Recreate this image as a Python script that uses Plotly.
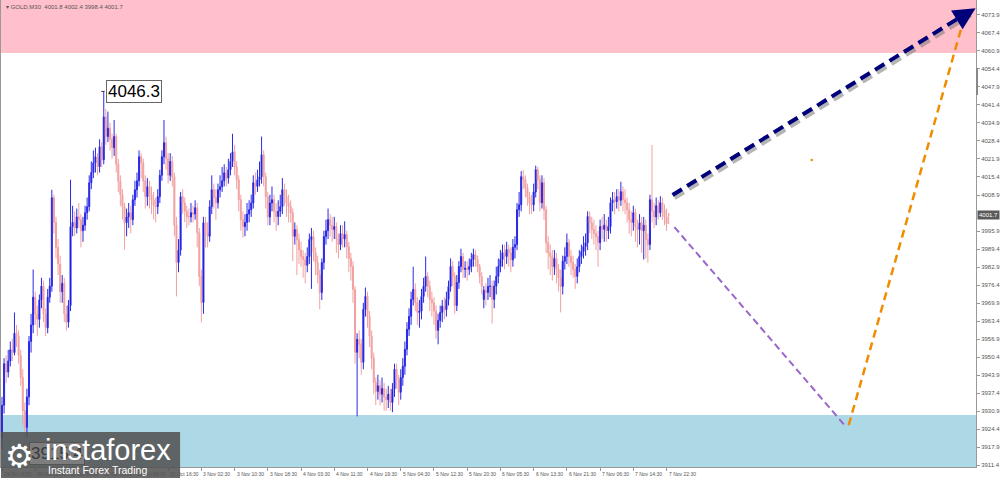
import plotly.graph_objects as go

# ---------------- data (GOLD, M30) ----------------
opens = [
    3921, 3933, 3948, 3945, 3949, 3953, 3952, 3959, 3958, 3951,
    3943, 3931, 3925, 3936, 3956, 3962, 3972, 3966, 3964, 3971,
    3976, 3966, 3961, 3972, 3976, 4007.9, 3999, 3990, 3984, 3974,
    3977, 3966, 3963, 3969, 3997.5, 3999, 3997, 4001, 4000, 3996,
    3998, 4002.5, 4004.7, 4013.3, 4017, 4020.5, 4022.7, 4019.1, 4026.3, 4021.6,
    4037.1, 4030, 4033, 4029, 4026, 4030, 4020, 4014, 4009, 4004.7,
    3998.9, 4001, 4002.5, 4000, 4007.2, 4010.8, 4014, 4022.7, 4020.5, 4014,
    4008.3, 4011.9, 4009, 4007.2, 4005, 4004.7, 4008.3, 4016, 4022.7, 4027.8,
    4022, 4016, 4021, 4015.5, 3998, 3984.5, 3989, 4008.3, 4006, 4003,
    4001.1, 4001, 4002.5, 4002, 4004.3, 3995.3, 3979.5, 3970.1, 3998.9, 3995.3,
    3994, 4004.7, 4010.8, 4008, 4006.1, 4010.8, 4011.9, 4014, 4016.9, 4015,
    4018, 4021, 4024.5, 4019, 4014.4, 4007.2, 4000, 3997.5, 3999, 4002,
    4003.6, 4006, 4013.3, 4012, 4014.4, 4015.5, 4023.4, 4015.5, 4008.3, 4001,
    4006, 4007.2, 4003, 4001.1, 4003, 4004.7, 4010.8, 4008.3, 4006, 4004.7,
    4002.5, 3994, 3996.4, 3992.8, 3989, 3986.7, 3985.6, 3983.5, 3986.7, 3992.8,
    3993.9, 3988.1, 3984.5, 3980, 3973.7, 3984.5, 3993.9, 3996, 4000, 3998,
    3996.4, 3997.5, 3993, 3991, 3995, 3993, 3994.6, 3990.3, 3986, 3983.1,
    3974.8, 3952.1, 3956.8, 3955, 3948.5, 3967.6, 3972.3, 3965, 3958, 3950,
    3941.3, 3938, 3940, 3937, 3939, 3936, 3935, 3937, 3934, 3938.8,
    3946, 3942.4, 3937.7, 3943, 3947.1, 3953.2, 3960.4, 3965.1, 3971.2, 3974.8,
    3970.1, 3966.5, 3967, 3972.3, 3976, 3979.5, 3975.9, 3971.2, 3970, 3967,
    3960, 3963.6, 3966.5, 3968.7, 3967.5, 3971.2, 3975.9, 3983.1, 3979.5, 3969,
    3977.3, 3983.1, 3986.7, 3982, 3982.5, 3982, 3983.1, 3985.6, 3987.4, 3985.6,
    3983.1, 3979.5, 3971.2, 3974.5, 3973.7, 3975.9, 3976, 3971.2, 3976, 3979.5,
    3983.1, 3985.6, 3988.1, 3986.7, 3989.2, 3988, 3985.5, 3990, 3991, 4003.6,
    4005.4, 4015.5, 4014.4, 4011.5, 4008.3, 4006, 4005.4, 4010, 4018, 4014.4,
    4006.1, 4013.3, 4003.6, 3991.7, 3988, 3986.7, 3983, 3986, 3982, 3979,
    3975.9, 3985, 3986.7, 3991.7, 3986.7, 3984.5, 3982, 3979.5, 3983, 3986.7,
    3988.5, 3990.3, 3991.7, 4001.1, 3998.9, 3996.4, 3995, 3993.9, 3991.7, 3997.5,
    3996.5, 3998, 3996, 3997.5, 4006.1, 4007.2, 4006.5, 4008.3, 4007, 4010.1,
    4007.2, 4006.1, 4003.6, 4000, 3999, 4002.5, 3997.5, 3996.4, 3998.9, 3996,
    3998, 3992.8, 3991, 4007.2, 4003, 4001, 4005, 4002.5, 4006.1, 4003.6,
    4001, 4001.8,
]
highs = [
    3936, 3950, 3951, 3953, 3956, 3957, 3966.5, 3962, 3960, 3953,
    3946, 3934, 3939, 3958, 3966, 3982, 3974, 3969, 3973, 3979,
    3978, 3968, 3975, 3979, 4010.8, 4009, 4001, 3993, 3987, 3980,
    3979, 3969, 3971, 4014.4, 4005, 4003, 4004, 4006, 4002, 4001,
    4005, 4008, 4016, 4021, 4025, 4026, 4024, 4029, 4028, 4046.3,
    4040, 4039, 4035, 4031, 4036, 4031, 4022, 4016, 4011, 4006,
    4004, 4006, 4005, 4009, 4014, 4017, 4025, 4024, 4022, 4016,
    4015, 4014, 4012, 4010, 4008, 4011, 4018, 4025, 4036, 4030,
    4024, 4024, 4023, 4017, 4001, 3993, 4010, 4011, 4008, 4005,
    4004, 4006, 4005, 4007, 4006, 3997, 3982, 4001, 4001, 3999,
    4007, 4016, 4013, 4011, 4013, 4016, 4019, 4020, 4019, 4022,
    4024, 4031, 4027, 4021, 4016, 4009, 4003, 4002, 4006, 4007,
    4009, 4016, 4017, 4018, 4021, 4030, 4025, 4017, 4010, 4009,
    4012, 4009, 4006, 4007, 4009, 4015, 4013, 4011, 4009, 4007,
    4004, 3999, 3998, 3995, 3992, 3989, 3988, 3990, 3995, 3997,
    3996, 3990, 3987, 3982, 3986, 3996, 4000, 4004, 4002, 4001,
    4001, 3999, 3995, 3998, 3998, 3999.4, 3996, 3992, 3988, 3985,
    3976, 3959, 3960, 3957, 3970, 3975.5, 3974, 3967, 3960, 3952,
    3943, 3944, 3942, 3943, 3941, 3939, 3940, 3939, 3941, 3948,
    3948, 3944, 3946, 3950, 3956, 3963, 3968, 3974, 3983, 3977,
    3972, 3971, 3975, 3979, 3986.7, 3981, 3978, 3974, 3972, 3969,
    3966, 3969, 3971, 3972, 3974, 3978, 3986, 3985, 3981, 3980,
    3985, 3989.5, 3988, 3985, 3985, 3986, 3988, 3989.5, 3989, 3987,
    3984, 3981, 3976, 3977, 3979, 3980, 3978, 3978, 3983, 3986,
    3989, 3991, 3991, 3992, 3991, 3990, 3993, 3994, 4006, 4010,
    4017.5, 4018, 4016, 4013, 4010, 4009, 4013, 4019.5, 4019, 4016,
    4016, 4015, 4005, 3994, 3991, 3989, 3989, 3988, 3984, 3982,
    3987, 3990, 3995, 3993, 3989, 3987, 3984, 3986, 3989, 3991,
    3994, 3995, 4003, 4003, 4001, 4000, 3998, 3996, 4000, 4001,
    4002, 4000, 4001, 4008, 4010, 4010, 4011, 4011, 4013.7, 4012,
    4011, 4008, 4006, 4003, 4005, 4004, 4000, 4002, 4001, 4001,
    4000, 3995, 4009, 4027, 4006, 4008, 4007, 4008.5, 4008, 4005.5,
    4004, 4002.4,
]
lows = [
    3917, 3930, 3941, 3943, 3947, 3949, 3951, 3954, 3948, 3940,
    3926, 3915.4, 3921, 3933, 3952, 3959, 3962, 3958, 3961, 3968,
    3963, 3958, 3959, 3970, 3974, 3995, 3986, 3980, 3970, 3970,
    3963, 3960, 3961, 3967, 3994, 3994, 3995, 3997, 3990, 3992,
    3996, 4000, 4003, 4011, 4015, 4017, 4016, 4017, 4019, 4020,
    4027, 4028, 4025, 4022, 4023, 4017, 4010, 4005, 4000, 3989.2,
    3994, 3997, 3995, 3998, 4005, 4008, 4012, 4015, 4010, 4004,
    4005, 4004, 4002, 4000, 3999, 4002, 4006, 4014, 4020, 4018,
    4013, 4014, 4012, 3994, 3972.3, 3981, 3987, 4002, 3999, 3997,
    3998, 3999, 3999, 4000, 3990, 3976, 3962.9, 3966, 3990, 3990,
    3992, 4002, 4004, 4000, 4004, 4008, 4010, 4012, 4012, 4013,
    4016, 4019, 4016, 4011, 4003, 3996, 3993.5, 3994, 3996, 3999,
    4001, 4004, 4009, 4010, 4012, 4013, 4012, 4004, 3998, 3998,
    4003, 3999, 3996, 3998, 4001, 4002, 4005, 4001, 3999, 3999,
    3985, 3991, 3980, 3984, 3983, 3979, 3977, 3981, 3984, 3975,
    3985, 3980, 3977, 3967.6, 3971, 3982, 3991, 3993, 3994, 3992,
    3993, 3988, 3986, 3989, 3990, 3990, 3986, 3981, 3978, 3970,
    3948, 3929, 3950, 3944, 3946, 3965, 3961, 3954, 3946, 3937,
    3933, 3935, 3933, 3934, 3931, 3931, 3932, 3931, 3930.5, 3936,
    3939, 3933, 3935, 3940, 3944, 3951, 3958, 3962, 3969, 3967,
    3962, 3961, 3964, 3970, 3974, 3972, 3967, 3965, 3962, 3957,
    3955, 3961, 3963, 3964, 3965, 3969, 3974, 3976, 3966, 3967,
    3975, 3981, 3979, 3979, 3978, 3980, 3981, 3983, 3983, 3981,
    3977, 3973, 3968, 3969, 3971, 3972, 3962.5, 3968, 3973, 3977,
    3981, 3983, 3982, 3984, 3983, 3981, 3983, 3986, 3989, 4001,
    4003, 4011, 4008, 4005, 4002, 4002, 4003, 4008, 4011, 4003,
    4004, 4000, 3988, 3982, 3980, 3978, 3980, 3977, 3974, 3966.5,
    3973, 3982, 3984, 3983, 3980, 3979, 3975, 3977, 3981, 3984,
    3986, 3987, 3989, 3995, 3993, 3991, 3989, 3983, 3989, 3993,
    3992, 3992, 3993, 3995, 4003, 4002, 4004, 4003, 4005, 4003,
    4002, 3999, 3995, 3994, 3996, 3992, 3990, 3991, 3988, 3985.6,
    3986, 3984.5, 3989, 3999, 3997, 3998, 4000, 4001, 4000, 3998,
    3996, 3998.4,
]
closes = [
    3933, 3948, 3945, 3949, 3953, 3952, 3959, 3958, 3951, 3943,
    3931, 3925, 3936, 3956, 3962, 3972, 3966, 3964, 3971, 3976,
    3966, 3961, 3972, 3976, 4007.9, 3999, 3990, 3984, 3974, 3977,
    3966, 3963, 3969, 3997.5, 3999, 3997, 4001, 4000, 3996, 3998,
    4002.5, 4004.7, 4013.3, 4017, 4020.5, 4022.7, 4019.1, 4026.3, 4021.6, 4037.1,
    4030, 4033, 4029, 4026, 4030, 4020, 4014, 4009, 4004.7, 3998.9,
    4001, 4002.5, 4000, 4007.2, 4010.8, 4014, 4022.7, 4020.5, 4014, 4008.3,
    4011.9, 4009, 4007.2, 4005, 4004.7, 4008.3, 4016, 4022.7, 4027.8, 4022,
    4016, 4021, 4015.5, 3998, 3984.5, 3989, 4008.3, 4006, 4003, 4001.1,
    4001, 4002.5, 4002, 4004.3, 3995.3, 3979.5, 3970.1, 3998.9, 3995.3, 3994,
    4004.7, 4010.8, 4008, 4006.1, 4010.8, 4011.9, 4014, 4016.9, 4015, 4018,
    4021, 4024.5, 4019, 4014.4, 4007.2, 4000, 3997.5, 3999, 4002, 4003.6,
    4006, 4013.3, 4012, 4014.4, 4015.5, 4023.4, 4015.5, 4008.3, 4001, 4006,
    4007.2, 4003, 4001.1, 4003, 4004.7, 4010.8, 4008.3, 4006, 4004.7, 4002.5,
    3994, 3996.4, 3992.8, 3989, 3986.7, 3985.6, 3983.5, 3986.7, 3992.8, 3993.9,
    3988.1, 3984.5, 3980, 3973.7, 3984.5, 3993.9, 3996, 4000, 3998, 3996.4,
    3997.5, 3993, 3991, 3995, 3993, 3994.6, 3990.3, 3986, 3983.1, 3974.8,
    3952.1, 3956.8, 3955, 3948.5, 3967.6, 3972.3, 3965, 3958, 3950, 3941.3,
    3938, 3940, 3937, 3939, 3936, 3935, 3937, 3934, 3938.8, 3946,
    3942.4, 3937.7, 3943, 3947.1, 3953.2, 3960.4, 3965.1, 3971.2, 3974.8, 3970.1,
    3966.5, 3967, 3972.3, 3976, 3979.5, 3975.9, 3971.2, 3970, 3967, 3960,
    3963.6, 3966.5, 3968.7, 3967.5, 3971.2, 3975.9, 3983.1, 3979.5, 3969, 3977.3,
    3983.1, 3986.7, 3982, 3982.5, 3982, 3983.1, 3985.6, 3987.4, 3985.6, 3983.1,
    3979.5, 3976, 3974.5, 3973.7, 3975.9, 3976, 3971.2, 3976, 3979.5, 3983.1,
    3985.6, 3988.1, 3986.7, 3989.2, 3988, 3985.5, 3990, 3991, 4003.6, 4005.4,
    4015.5, 4014.4, 4011.5, 4008.3, 4006, 4005.4, 4010, 4018, 4014.4, 4006.1,
    4013.3, 4003.6, 3991.7, 3988, 3986.7, 3983, 3986, 3982, 3979, 3975.9,
    3985, 3986.7, 3991.7, 3986.7, 3984.5, 3982, 3979.5, 3983, 3986.7, 3988.5,
    3990.3, 3991.7, 4001.1, 3998.9, 3996.4, 3995, 3993.9, 3991.7, 3997.5, 3996.5,
    3998, 3996, 3997.5, 4006.1, 4007.2, 4006.5, 4008.3, 4007, 4010.1, 4007.2,
    4006.1, 4003.6, 4000, 3999, 4002.5, 3997.5, 3996.4, 3998.9, 3996, 3998,
    3992.8, 3991, 4007.2, 4003, 4001, 4005, 4002.5, 4006.1, 4003.6, 4001,
    3998.5, 4001.7,
]

# time-axis labels (every 16 bars)
tick_bars = [0, 16, 32, 48, 64, 80, 96, 112, 128, 144, 160, 176, 192, 208, 224,
             240, 256, 272, 288, 304, 320]
tick_texts = ["29 Oct 2025", "30 Oct 08:30", "30 Oct 16:30", "31 Oct 00:30",
              "31 Oct 08:30", "31 Oct 16:30", "3 Nov 02:30", "3 Nov 10:30",
              "3 Nov 18:30", "4 Nov 03:30", "4 Nov 11:30", "4 Nov 19:30",
              "5 Nov 04:30", "5 Nov 12:30", "5 Nov 20:30", "6 Nov 05:30",
              "6 Nov 13:30", "6 Nov 21:30", "7 Nov 06:30", "7 Nov 14:30",
              "7 Nov 22:30"]

# price-axis labels
price_ticks = [4073.9, 4067.4, 4060.9, 4054.4, 4047.9, 4041.4, 4034.9, 4028.4,
               4021.9, 4015.4, 4008.9, 3995.9, 3989.4, 3982.9, 3976.4, 3969.9,
               3963.4, 3956.9, 3950.4, 3943.9, 3937.4, 3930.9, 3924.4, 3917.9, 3911.4]
last_price = 4001.7
high_label = (49, 4046.3)
low_label = (11, 3915.4)

# zones
sell_zone = (4060.2, 4079.3)
buy_zone = (3910.7, 3929.5)

# forecast lines (bar index, price)
navy_path = [(322.9, 4008.9), (465.5, 4075.0)]
purple_path = [(323.8, 3997.3), (405.7, 3925.8)]
orange_path = [(407.7, 3925.8), (463.0, 4072.0)]
orange_dot = (389.9, 4021.5)

X_RANGE = [-0.48, 469.0]
Y_RANGE = [3910.7, 4079.3]

fig = go.Figure()

# candles
fig.add_trace(go.Candlestick(
    x=list(range(len(closes))), open=opens, high=highs, low=lows, close=closes,
    increasing=dict(line=dict(color="#2a2ae6", width=1), fillcolor="#0000d8"),
    decreasing=dict(line=dict(color="#f2a0a0", width=1), fillcolor="#f2a0a0"),
    whiskerwidth=0, showlegend=False, hoverinfo="skip"))

# navy arrow shadow + line
fig.add_trace(go.Scatter(
    x=[p[0] + 1.0 for p in navy_path], y=[p[1] - 1.1 for p in navy_path],
    mode="lines", line=dict(color="rgba(120,120,120,0.55)", width=4, dash="11px,6px"),
    showlegend=False, hoverinfo="skip"))
fig.add_trace(go.Scatter(
    x=[p[0] for p in navy_path], y=[p[1] for p in navy_path],
    mode="lines", line=dict(color="#00007a", width=4, dash="11px,6px"),
    showlegend=False, hoverinfo="skip"))
fig.add_trace(go.Scatter(
    x=[p[0] for p in purple_path], y=[p[1] for p in purple_path],
    mode="lines", line=dict(color="#9966cc", width=2, dash="7px,4px"),
    showlegend=False, hoverinfo="skip"))
fig.add_trace(go.Scatter(
    x=[p[0] for p in orange_path], y=[p[1] for p in orange_path],
    mode="lines", line=dict(color="#f08c00", width=2.5, dash="8px,5px"),
    showlegend=False, hoverinfo="skip"))
fig.add_trace(go.Scatter(
    x=[orange_dot[0]], y=[orange_dot[1]], mode="markers",
    marker=dict(color="#f08c00", size=2.5), showlegend=False, hoverinfo="skip"))

shapes = [
    dict(type="rect", xref="paper", yref="y", x0=0, x1=1, y0=sell_zone[0], y1=sell_zone[1],
         fillcolor="#ffc0cb", line=dict(width=0), layer="below"),
    dict(type="rect", xref="paper", yref="y", x0=0, x1=1, y0=buy_zone[0], y1=buy_zone[1],
         fillcolor="#add8e6", line=dict(width=0), layer="below"),
    # high marker tick
    dict(type="line", xref="x", yref="y", x0=high_label[0] - 1.2, x1=high_label[0] + 0.4,
         y0=high_label[1], y1=high_label[1], line=dict(color="#333", width=1)),
    # scroll marker on right edge
    dict(type="rect", xref="paper", yref="paper", x0=1.0, x1=1.0 + 2 / 980,
         y0=1 - 95 / 467, y1=1 - 68 / 467, fillcolor="#888", line=dict(width=0)),
    # logo box
    dict(type="rect", xref="paper", yref="paper", x0=0, x1=180 / 980,
         y0=-11 / 467, y1=35 / 467, fillcolor="rgba(80,80,80,0.86)", line=dict(width=0),
         layer="above"),
]

annotations = []
# time labels
for b, t in zip(tick_bars, tick_texts):
    annotations.append(dict(x=b, y=0, xref="x", yref="paper", text=t, showarrow=False,
                            xanchor="left", yanchor="top", xshift=0, yshift=-2,
                            font=dict(family="Liberation Sans", size=5, color="#555")))
# current price box
annotations.append(dict(x=1, y=last_price, xref="paper", yref="y", text=f"{last_price:.1f}",
                        showarrow=False, xanchor="left", yanchor="middle", xshift=1,
                        bgcolor="#5a5a5a", borderpad=1,
                        font=dict(family="Liberation Sans", size=6, color="white")))
# high / low labels (low label sits behind the logo in the reference)
annotations.append(dict(x=high_label[0], y=high_label[1], xref="x", yref="y",
                        text=f"{high_label[1]:.1f}", showarrow=False, xanchor="left",
                        yanchor="middle", xshift=2, bgcolor="white", bordercolor="#666",
                        borderwidth=1, borderpad=1,
                        font=dict(family="Liberation Sans", size=17, color="black")))
annotations.append(dict(x=low_label[0], y=low_label[1], xref="x", yref="y",
                        text=f"{low_label[1]:.1f}", showarrow=False, xanchor="left",
                        yanchor="middle", xshift=4, bgcolor="#7d7d7d", bordercolor="#555",
                        borderwidth=1, borderpad=1,
                        font=dict(family="Liberation Sans", size=17, color="#3a3a3a")))
# navy arrow head
annotations.append(dict(x=navy_path[1][0] + 3.3, y=navy_path[1][1] + 1.3, xref="x", yref="y",
                        ax=-17, ay=10.5, axref="pixel", ayref="pixel", text="",
                        showarrow=True, arrowhead=2, arrowsize=1.1, arrowwidth=4,
                        arrowcolor="#00007a"))
# header
annotations.append(dict(x=0, y=1, xref="paper", yref="paper",
                        text="▾ GOLD,M30  4001.8 4002.4 3998.4 4001.7", showarrow=False,
                        xanchor="left", yanchor="top", xshift=3, yshift=-2,
                        font=dict(family="Liberation Sans", size=6, color="#555")))
# logo
annotations.append(dict(x=0, y=-11 / 467, xref="paper", yref="paper", text="⚙",
                        showarrow=False, xanchor="left", yanchor="bottom", xshift=2, yshift=1,
                        font=dict(family="DejaVu Sans", size=32, color="white")))
annotations.append(dict(x=0, y=-11 / 467, xref="paper", yref="paper", text="instaforex",
                        showarrow=False, xanchor="left", yanchor="bottom", xshift=42, yshift=10,
                        font=dict(family="Liberation Sans", size=29, color="white")))
annotations.append(dict(x=0, y=-11 / 467, xref="paper", yref="paper",
                        text="Instant Forex Trading",
                        showarrow=False, xanchor="left", yanchor="bottom", xshift=45, yshift=0,
                        font=dict(family="Liberation Sans", size=10.5, color="white")))

fig.update_layout(
    width=1000, height=478,
    margin=dict(l=0, r=20, t=0, b=11, pad=0),
    paper_bgcolor="white", plot_bgcolor="white",
    shapes=shapes, annotations=annotations,
    showlegend=False,
    xaxis=dict(range=X_RANGE, showgrid=False, zeroline=False, showline=True,
               linecolor="#999", linewidth=1, ticks="outside", ticklen=3, tickcolor="#999",
               tickvals=tick_bars, showticklabels=False, rangeslider=dict(visible=False),
               fixedrange=True),
    yaxis=dict(range=Y_RANGE, side="right", showgrid=False, zeroline=False, showline=True,
               mirror=True, linecolor="#999", linewidth=1, ticks="outside", ticklen=3,
               tickcolor="#999", tickvals=price_ticks,
               ticktext=[f"{v:.1f}" for v in price_ticks],
               tickfont=dict(family="Liberation Sans", size=6, color="#555"),
               fixedrange=True),
)

fig.write_html("out.html", config={"displayModeBar": False},
               post_script="document.body.style.margin='0';document.body.style.padding='0';")
